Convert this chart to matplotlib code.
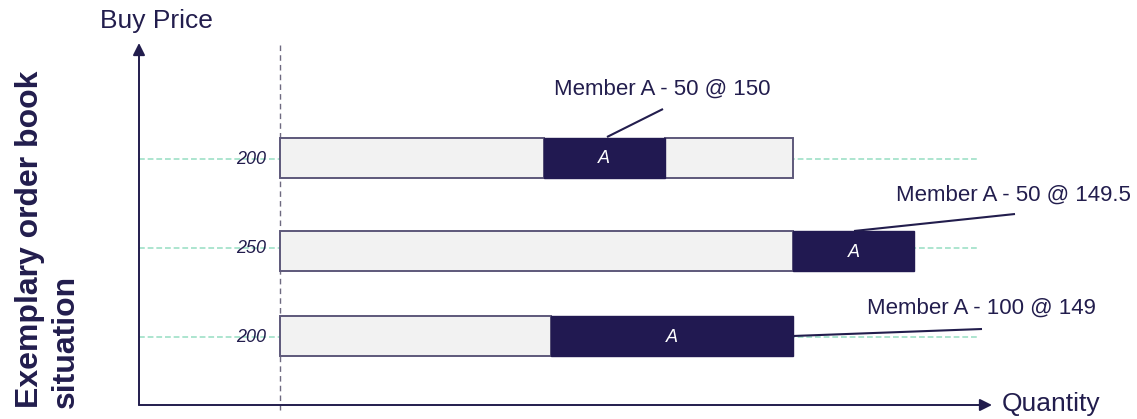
import matplotlib
matplotlib.use("Agg")
import matplotlib.pyplot as plt

plt.rcParams['font.family'] = ['Liberation Sans', 'DejaVu Sans']

# ---- data ----
row_labels = ["200", "250", "200"]           # price-level tick labels (top to bottom)
before_qty = [109, 212, 112]                 # resting quantity ahead of Member A
member_qty = [50, 50, 100]                   # Member A order quantity
after_qty = [53, 0, 0]                       # resting quantity behind Member A
member_tag = ["A", "A", "A"]
annotations = ["Member A - 50 @ 150", "Member A - 50 @ 149.5", "Member A - 100 @ 149"]
y_title = "Buy Price"
x_title = "Quantity"
side_title = "Exemplary order book\nsituation"

# ---- style ----
NAVY = "#211951"
TEXT = "#221d4d"
LIGHT = "#f2f2f2"
EDGE = "#5d587a"
MINT = "#a6e3cb"
GREY = "#6e6a80"

W, H = 1137, 419
fig = plt.figure(figsize=(W / 100, H / 100), dpi=100)

# decoration axes in pixel coordinates (drawn below main axes)
deco = fig.add_axes([0, 0, 1, 1])
deco.set_xlim(0, W)
deco.set_ylim(H, 0)
deco.axis("off")
deco.set_zorder(0)

# main data axes: quantity on x, rows on y (pixel-like row layout)
PX0, K = 280, 2.42            # x pixel of quantity 0 and pixels per unit
ax = fig.add_axes([0, 0, 1, 1])
ax.set_xlim(-PX0 / K, (W - PX0) / K)
ax.set_ylim(H, 0)
ax.axis("off")
ax.set_zorder(1)
ax.patch.set_alpha(0)

# top overlay for callouts and labels
top = fig.add_axes([0, 0, 1, 1])
top.set_xlim(0, W)
top.set_ylim(H, 0)
top.axis("off")
top.set_zorder(2)
top.patch.set_alpha(0)

row_y = [157.5, 251, 336]
mint_y = [159, 248, 337]
bar_h = 40

# mint guide lines behind bars
for yy in mint_y:
    deco.plot([139, 977], [yy, yy], color=MINT, lw=1.3, dashes=(3.2, 1.6), zorder=1)

# dashed vertical reference line at quantity 0
deco.plot([280, 280], [45, 410], color=GREY, lw=1.0, dashes=(4, 3), zorder=2)

# bars
for i in range(3):
    y = row_y[i]
    ax.barh(y, before_qty[i], left=0, height=bar_h, color=LIGHT, edgecolor=EDGE,
            lw=1.4, zorder=3)
    ax.barh(y, member_qty[i], left=before_qty[i], height=bar_h, color=NAVY,
            edgecolor=NAVY, lw=1.0, zorder=4)
    if after_qty[i] > 0:
        ax.barh(y, after_qty[i], left=before_qty[i] + member_qty[i], height=bar_h,
                color=LIGHT, edgecolor=EDGE, lw=1.4, zorder=3)
    ax.text(before_qty[i] + member_qty[i] / 2, y + 1, member_tag[i], color="white",
            style="italic", fontsize=13, ha="center", va="center", zorder=5)

# tick labels
for yy, lab in zip(mint_y, row_labels):
    deco.text(266, yy, lab, style="italic", fontsize=13, color=TEXT,
              ha="right", va="center", zorder=6)

# axes arrows
top.annotate("", xy=(139, 43), xytext=(139, 405),
             arrowprops=dict(arrowstyle="-|>", color=TEXT, lw=1.4,
                             mutation_scale=18, shrinkA=0, shrinkB=0))
top.annotate("", xy=(992, 405), xytext=(139, 405),
             arrowprops=dict(arrowstyle="-|>", color=TEXT, lw=1.4,
                             mutation_scale=18, shrinkA=0, shrinkB=0))

top.text(100, 21, y_title, fontsize=19, color=TEXT, ha="left", va="center")
top.text(1002, 404, x_title, fontsize=19, color=TEXT, ha="left", va="center")

# side title
top.text(48, 408, side_title, rotation=90, fontsize=23, fontweight="bold",
         color=TEXT, ha="center", va="bottom", multialignment="left",
         linespacing=1.22)

# callouts
callouts = [
    ((554, 89), (663, 109), (607, 137)),
    ((896, 195), (1015, 214), (854, 231)),
    ((867, 308), (982, 329), (793, 336)),
]
for (txy, p1, p2), lab in zip(callouts, annotations):
    top.text(txy[0], txy[1], lab, fontsize=16, color=TEXT, ha="left", va="center")
    top.plot([p1[0], p2[0]], [p1[1], p2[1]], color=TEXT, lw=1.5,
             solid_capstyle="butt")

fig.savefig("out.png", dpi=100)
